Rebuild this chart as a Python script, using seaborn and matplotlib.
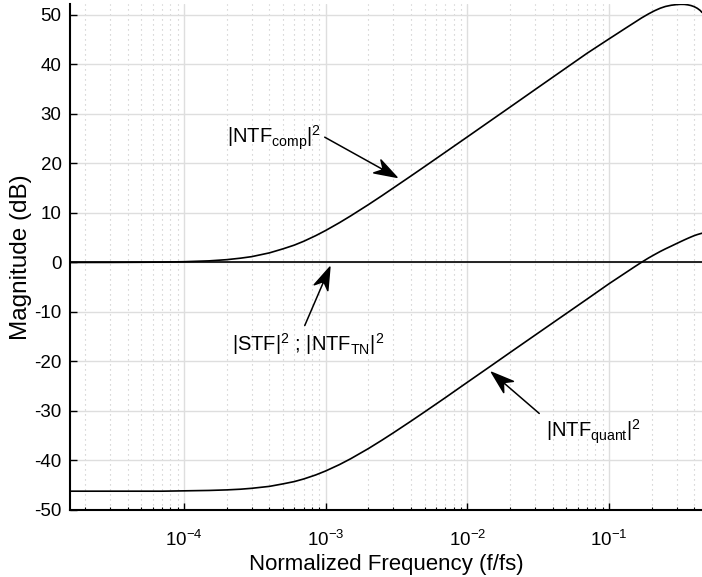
import numpy as np
import pandas as pd
import matplotlib
matplotlib.use("Agg")
import matplotlib.pyplot as plt
from matplotlib.ticker import LogLocator, NullLocator, FixedLocator
from matplotlib.patches import ArrowStyle
from matplotlib.path import Path
import seaborn as sns

# ---- data ----
freq = [1.566e-5, 3e-5, 5e-5, 7e-5, 1e-4, 1.5e-4, 2e-4, 2.5e-4, 3e-4, 4e-4,
        5e-4, 6e-4, 7e-4, 8.5e-4, 1e-3, 1.25e-3, 1.5e-3, 2e-3, 2.5e-3, 3e-3,
        4e-3, 5e-3, 7e-3, 1e-2, 1.5e-2, 2e-2, 3e-2, 5e-2, 7e-2, 0.1,
        0.115, 0.13, 0.15, 0.17, 0.19, 0.21, 0.23, 0.25, 0.275, 0.3,
        0.32, 0.34, 0.36, 0.38, 0.4, 0.42, 0.44, 0.4533]
ntf_comp = [0.0, 0.01, 0.04, 0.07, 0.15, 0.32, 0.56, 0.86, 1.17, 1.93,
            2.75, 3.5, 4.28, 5.41, 6.46, 8.03, 9.4, 11.67, 13.5, 15.04,
            17.47, 19.38, 22.28, 25.36, 28.88, 31.37, 34.9, 39.33, 42.25, 45.15,
            46.27, 47.26, 48.4, 49.4, 50.2, 50.85, 51.35, 51.7, 51.95, 52.08,
            52.13, 52.12, 52.03, 51.88, 51.65, 51.33, 50.9, 50.5]
ntf_quant = [-46.2, -46.2, -46.2, -46.2, -46.13, -46.05, -45.94, -45.8, -45.62, -45.23,
             -44.72, -44.26, -43.73, -42.92, -42.11, -40.83, -39.65, -37.6, -35.88, -34.42,
             -32.05, -30.17, -27.3, -24.2, -20.7, -18.2, -14.7, -10.3, -7.4, -4.3,
             -3.15, -2.14, -0.96, 0.05, 0.9, 1.6, 2.22, 2.74, 3.3, 3.82,
             4.2, 4.55, 4.87, 5.16, 5.42, 5.63, 5.8, 5.9]
stf = [0.0] * len(freq)

xtick_vals = [1e-4, 1e-3, 1e-2, 1e-1]
xtick_labels = ["$10^{-4}$", "$10^{-3}$", "$10^{-2}$", "$10^{-1}$"]
ytick_vals = [-50, -40, -30, -20, -10, 0, 10, 20, 30, 40, 50]
ytick_labels = ["-50", "-40", "-30", "-20", "-10", "0", "10", "20", "30", "40", "50"]

label_comp = "|NTF$_{comp}$|$^{2}$"
label_stf = "|STF|$^{2}$ ; |NTF$_{TN}$|$^{2}$"
label_quant = "|NTF$_{quant}$|$^{2}$"


# ---- MATLAB-like swept-back arrow head ----
class VBack(ArrowStyle._Base):
    def __init__(self, head_length=1.15, head_width=0.38, back=0.35):
        self.head_length = head_length
        self.head_width = head_width
        self.back = back
        super().__init__()

    def transmute(self, path, mutation_size, linewidth):
        v = path.vertices
        (x0, y0), (x1, y1) = v[0], v[-1]
        dx, dy = x1 - x0, y1 - y0
        d = np.hypot(dx, dy)
        ux, uy = dx / d, dy / d
        nx, ny = -uy, ux
        L = self.head_length * mutation_size
        W = self.head_width * mutation_size
        b = self.back * mutation_size
        bx, by = x1 - ux * L, y1 - uy * L
        notch = (x1 - ux * (L - b), y1 - uy * (L - b))
        verts = [(x0, y0), notch,
                 (x1, y1), (bx + nx * W, by + ny * W), notch,
                 (bx - nx * W, by - ny * W), (x1, y1)]
        codes = [Path.MOVETO, Path.LINETO,
                 Path.MOVETO, Path.LINETO, Path.LINETO, Path.LINETO, Path.CLOSEPOLY]
        return Path(verts, codes), True


# ---- style ----
sns.set_theme(style="white")
plt.rcParams["font.family"] = ["Liberation Sans", "DejaVu Sans"]
plt.rcParams["mathtext.default"] = "regular"
plt.rcParams["text.color"] = "black"
plt.rcParams["axes.labelcolor"] = "black"

df = pd.DataFrame({"f": freq, "comp": ntf_comp, "quant": ntf_quant, "stf": stf})

fig = plt.figure(figsize=(7.02, 5.77), dpi=100)
ax = fig.add_axes([70 / 702, 67 / 577, 632 / 702, 506 / 577])

sns.lineplot(data=df, x="f", y="comp", ax=ax, color="black", lw=1.2)
sns.lineplot(data=df, x="f", y="quant", ax=ax, color="black", lw=1.2)
sns.lineplot(data=df, x="f", y="stf", ax=ax, color="black", lw=1.2)

ax.set_xscale("log")
ax.set_xlim(1.566e-5, 0.4533)
ax.set_ylim(-50, 52.2)

ax.xaxis.set_major_locator(FixedLocator(xtick_vals))
ax.set_xticklabels(xtick_labels)
ax.xaxis.set_minor_locator(LogLocator(base=10, subs=np.arange(2, 10), numticks=20))
ax.set_yticks(ytick_vals)
ax.set_yticklabels(ytick_labels)
ax.yaxis.set_minor_locator(NullLocator())

ax.grid(True, which="major", axis="both", color="#dedede", lw=1.0, ls="-")
ax.grid(True, which="minor", axis="x", color="#c4c4c4", lw=0.8, ls=(0, (1, 3.5)))
ax.set_axisbelow(True)

for s in ["top", "right"]:
    ax.spines[s].set_visible(False)
for s in ["left", "bottom"]:
    ax.spines[s].set_color("black")
    ax.spines[s].set_linewidth(1.5)

ax.tick_params(axis="both", which="major", direction="in", length=5, width=1.0,
               labelsize=13.5, colors="black", labelcolor="black",
               left=True, bottom=True, pad=6)
ax.tick_params(axis="x", which="minor", direction="in", length=2.5, width=0.8,
               bottom=True, colors="black")
ax.tick_params(axis="x", which="major", pad=14)

ax.set_xlabel("Normalized Frequency (f/fs)", fontsize=16, labelpad=3)
ax.set_ylabel("Magnitude (dB)", fontsize=17.5, labelpad=2)

arrow = dict(arrowstyle=VBack(1.15, 0.38, 0.35), color="black",
             lw=1.1, shrinkA=0, shrinkB=0, mutation_scale=14)
ax.annotate("", xy=(3.18e-3, 17.2), xytext=(9.84e-4, 25.3), arrowprops=dict(arrow))
ax.annotate("", xy=(1.07e-3, -0.95), xytext=(7.11e-4, -12.75), arrowprops=dict(arrow))
ax.annotate("", xy=(0.01483, -22.2), xytext=(0.03217, -30.5), arrowprops=dict(arrow))

ax.text(2.011e-4, 24.1, label_comp, fontsize=14.5, ha="left", va="baseline")
ax.text(2.171e-4, -17.8, label_stf, fontsize=14.5, ha="left", va="baseline")
ax.text(0.03591, -35.4, label_quant, fontsize=14.5, ha="left", va="baseline")

fig.savefig("out.png", dpi=100)
